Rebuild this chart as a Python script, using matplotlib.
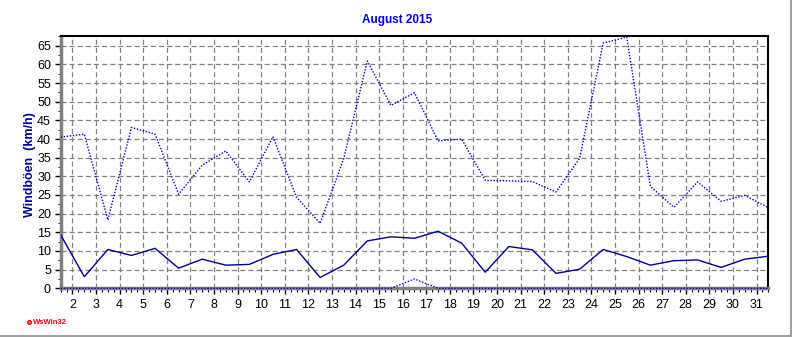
import matplotlib
matplotlib.use("Agg")
import matplotlib.pyplot as plt
from matplotlib.ticker import MultipleLocator
from matplotlib.lines import Line2D

plt.rcParams['font.family'] = ['Liberation Sans', 'DejaVu Sans']

days = [d + 0.5 for d in range(1, 32)]
gusts = [40.5, 41.3, 18.3, 43.1, 41.3, 25.2, 33.0, 36.8, 28.5, 40.6,
         24.4, 17.4, 34.8, 60.9, 49.0, 52.4, 39.5, 40.0, 28.9, 28.8,
         28.6, 25.8, 34.8, 65.7, 67.3, 27.3, 21.7, 28.5, 23.3, 24.9, 21.6]
mean_wind = [14.3, 3.1, 10.4, 8.8, 10.7, 5.4, 7.8, 6.2, 6.4, 9.1,
             10.4, 2.9, 6.2, 12.7, 13.8, 13.4, 15.3, 12.1, 4.3, 11.2,
             10.3, 4.0, 5.1, 10.4, 8.5, 6.2, 7.4, 7.6, 5.6, 7.8, 8.6]
third = [0, 0, 0, 0, 0, 0, 0, 0, 0, 0,
         0, 0, 0, 0, 0, 2.5, 0, 0, 0, 0,
         0, 0, 0, 0, 0, 0, 0, 0, 0, 0, 0]
xticks = list(range(2, 32))
yticks = list(range(0, 70, 5))

fig = plt.figure(figsize=(7.92, 3.37), dpi=100)
ax = fig.add_axes([60.7/792, 1-288.3/337, (768.3-60.7)/792, (288.3-36)/337])

ax.set_xlim(1.5, 31.5)
ax.set_ylim(0, 67.6)

ax.grid(True, color='#808080', linestyle=(0, (4, 2.5)), linewidth=0.9)
ax.set_axisbelow(True)

ax.plot(days, mean_wind, color='#000099', linewidth=1.0, solid_joinstyle='miter', zorder=3)
ax.plot(days, gusts, color='#0000CC', linewidth=1.0, linestyle=(0, (1, 1.2)), zorder=3)
ax.plot(days, third, color='#0000CC', linewidth=1.0, linestyle=(0, (1, 1.2)), zorder=4, clip_on=False)

ax.set_xticks(xticks)
ax.set_yticks(yticks)
ax.xaxis.set_minor_locator(MultipleLocator(0.25))
ax.yaxis.set_minor_locator(MultipleLocator(2.5))
ax.tick_params(axis='both', which='major', labelsize=9, length=4, width=1, color='black', direction='out')
ax.tick_params(axis='x', which='minor', length=3, width=0.8, direction='out')
ax.tick_params(axis='y', which='minor', length=2, width=0.6, direction='out')
ax.tick_params(axis='x', pad=4)
ax.tick_params(axis='y', pad=3)

for s in ['top', 'right']:
    ax.spines[s].set_color('black')
    ax.spines[s].set_linewidth(1.5)
for s in ['left', 'bottom']:
    ax.spines[s].set_color('#808080')
    ax.spines[s].set_linewidth(2.5)

fig.text(397/792, 1-20/337, 'August 2015', color='#0000FF', fontsize=8.5, fontweight='bold',
         ha='center', va='center')
fig.text(30/792, 1-165/337, 'Windböen  (km/h)', color='#0000A0', fontsize=9, fontweight='bold',
         ha='center', va='center', rotation=90)
fig.text(33/792, 1-322/337, 'WsWin32', color='#FF0000', fontsize=5.5, fontweight='bold',
         ha='left', va='center')
fig.lines.append(Line2D([29/792], [1-322/337], marker='o', markersize=2.8, color='#FF0000',
                        markerfacecolor='#FF6060', markeredgewidth=0.8, transform=fig.transFigure))
fig.lines.append(Line2D([0, 790.5/792], [1-336/337, 1-336/337], color='#A0A0A0', linewidth=1.5,
                        transform=fig.transFigure))
fig.lines.append(Line2D([790.5/792, 790.5/792], [1-336/337, 1.0], color='#A0A0A0', linewidth=1.5,
                        transform=fig.transFigure))

fig.savefig('out.png', dpi=100)
